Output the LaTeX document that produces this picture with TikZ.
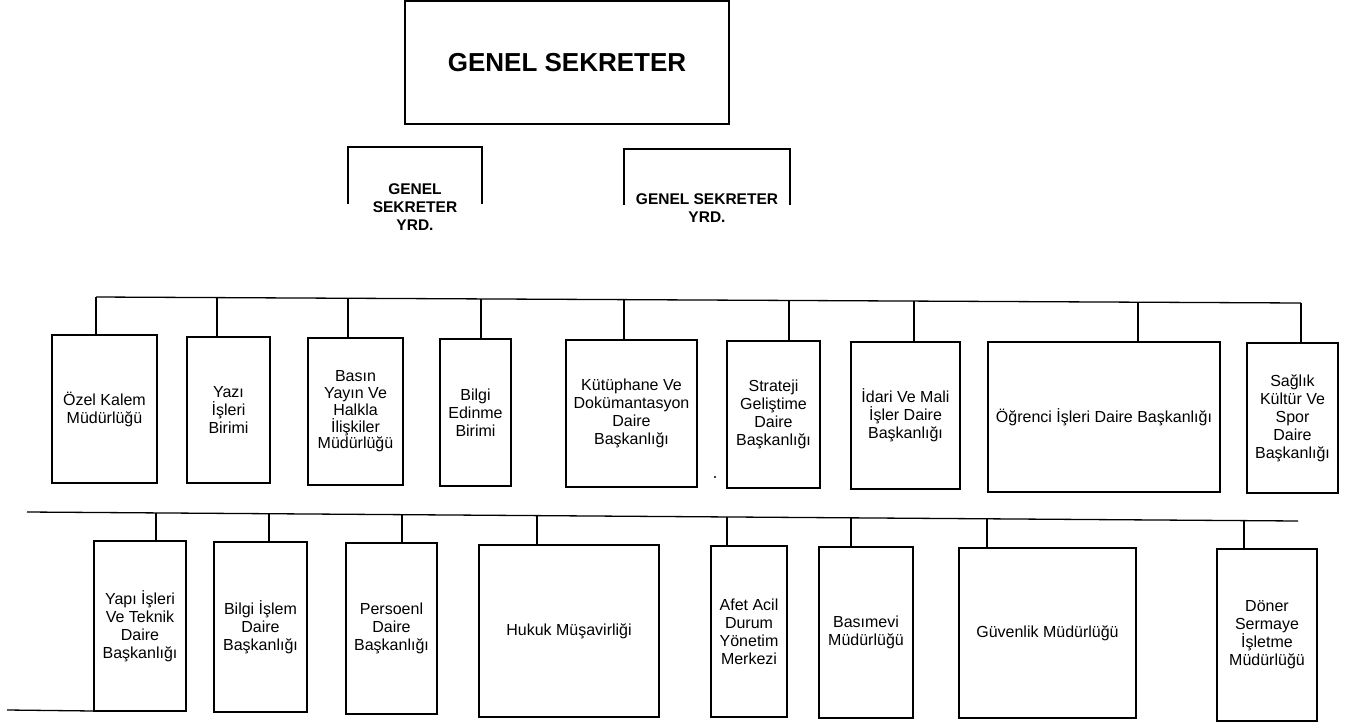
\documentclass[tikz,border=0pt]{standalone}
\usepackage{fontspec}
\setmainfont{Liberation Sans}
\begin{document}
\begin{tikzpicture}[x=1pt,y=-1pt,
  ln/.style={line width=1.3pt},
  box/.style={draw, ln, inner sep=0pt, outer sep=0pt, align=center,
    font=\fontsize{16}{18}\selectfont},
  tight/.style={font=\fontsize{16}{16.8}\selectfont},
  topbox/.style={draw, ln, inner sep=0pt, outer sep=0pt, align=center,
    font=\fontsize{26}{30}\selectfont\bfseries},
  yrdtext/.style={inner sep=0pt, align=center, font=\fontsize{15.5}{18}\selectfont\bfseries}]
\useasboundingbox (0,0) rectangle (1355,726);
% top
\node[topbox, minimum width=324pt, minimum height=123pt] (gs) at (567,62.5) {GENEL SEKRETER};
% deputies (open boxes)
\node[yrdtext] (y1) at (415,207) {GENEL\\SEKRETER\\YRD.};
\node[yrdtext] (y2) at (707,208) {GENEL SEKRETER\\YRD.};
\coordinate (y1a) at (348,204); \coordinate (y1b) at (482,204);
\coordinate (y2a) at (624,205); \coordinate (y2b) at (790,205);
\draw[ln] (y1a) |- (348,147) -| (y1b);
\draw[ln] (y2a) |- (624,149) -| (y2b);
% row 1 boxes
\node[box, minimum width=105pt, minimum height=148pt] (a1) at (104.5,409) {Özel Kalem\\Müdürlüğü};
\node[box, minimum width=83pt, minimum height=146pt] (a2) at (228.5,410) {Yazı\\İşleri\\Birimi};
\node[box, tight, minimum width=95pt, minimum height=147pt] (a3) at (355.5,411.5) {Basın\\Yayın Ve\\Halkla\\İlişkiler\\Müdürlüğü};
\node[box, minimum width=71pt, minimum height=147pt] (a4) at (475.5,412.5) {Bilgi\\Edinme\\Birimi};
\node[box, minimum width=131pt, minimum height=147pt] (a5) at (631.5,413.5) {Kütüphane Ve\\Dokümantasyon\\Daire\\Başkanlığı};
\node[box, minimum width=93pt, minimum height=147pt] (a6) at (773.5,414.5) {Strateji\\Geliştime\\Daire\\Başkanlığı};
\node[box, minimum width=109pt, minimum height=147pt] (a7) at (905.5,415.5) {İdari Ve Mali\\İşler Daire\\Başkanlığı};
\node[box, minimum width=232pt, minimum height=150pt] (a8) at (1104,417) {Öğrenci İşleri Daire Başkanlığı};
\node[box, minimum width=91pt, minimum height=150pt] (a9) at (1292.5,418) {Sağlık\\Kültür Ve\\Spor\\Daire\\Başkanlığı};
% row 1 bus
\coordinate (t1) at (96,297);
\coordinate (t2) at (217,297.6);
\coordinate (t3) at (348,298.3);
\coordinate (t4) at (481,298.9);
\coordinate (t5) at (624,299.6);
\coordinate (t6) at (789,300.5);
\coordinate (t7) at (914,301.1);
\coordinate (t8) at (1138,302.2);
\coordinate (t9) at (1301,303);
\draw[ln] (t1) -- (t9);
\foreach \i in {1,...,9} { \draw[ln] (t\i) -- (t\i |- a\i.north); }
% row 2 boxes
\node[box, minimum width=92pt, minimum height=170pt] (b1) at (140,626) {Yapı İşleri\\Ve Teknik\\Daire\\Başkanlığı};
\node[box, minimum width=93pt, minimum height=170pt] (b2) at (260.5,627) {Bilgi İşlem\\Daire\\Başkanlığı};
\node[box, minimum width=91pt, minimum height=171pt] (b3) at (391.5,628.5) {Persoenl\\Daire\\Başkanlığı};
\node[box, minimum width=180pt, minimum height=172pt] (b4) at (569,631) {Hukuk Müşavirliği};
\node[box, minimum width=76pt, minimum height=171pt] (b5) at (749,631.5) {Afet Acil\\Durum\\Yönetim\\Merkezi};
\node[box, minimum width=94pt, minimum height=171pt] (b6) at (866,632.5) {Basımevi\\Müdürlüğü};
\node[box, minimum width=177pt, minimum height=170pt] (b7) at (1047.5,633) {Güvenlik Müdürlüğü};
\node[box, minimum width=100pt, minimum height=172pt] (b8) at (1267,635) {Döner\\Sermaye\\İşletme\\Müdürlüğü};
% row 2 bus
\coordinate (s0) at (27,512);
\coordinate (s9) at (1298,521);
\coordinate (s1) at (156,513);
\coordinate (s2) at (269,513.7);
\coordinate (s3) at (402,514.6);
\coordinate (s4) at (537,515.6);
\coordinate (s5) at (727,516.9);
\coordinate (s6) at (851,517.8);
\coordinate (s7) at (987,518.8);
\coordinate (s8) at (1244,520.6);
\draw[ln] (s0) -- (s9);
\foreach \i in {1,...,8} { \draw[ln] (s\i) -- (s\i |- b\i.north); }
% bottom-left stub
\coordinate (bl) at (7,710);
\draw[ln] (bl) -- (b1.south west);
% stray dot
\fill (715,477) circle (1.2pt);
\end{tikzpicture}
\end{document}
